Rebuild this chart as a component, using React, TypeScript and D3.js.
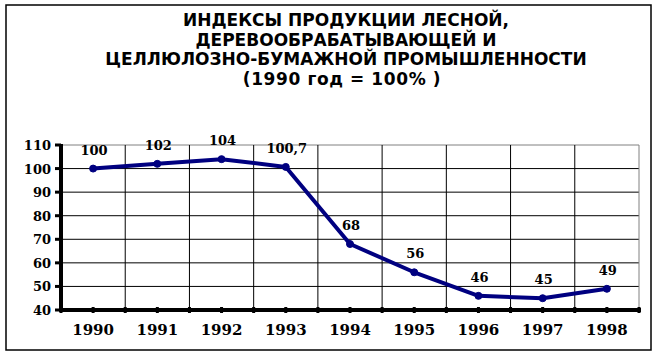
import React from "react";
import * as d3 from "d3";

const years = ["1990", "1991", "1992", "1993", "1994", "1995", "1996", "1997", "1998"];
const values = [100, 102, 104, 100.7, 68, 56, 46, 45, 49];
const valueLabels = ["100", "102", "104", "100,7", "68", "56", "46", "45", "49"];
const yTicks = [40, 50, 60, 70, 80, 90, 100, 110];
const titleLines = [
  "ИНДЕКСЫ ПРОДУКЦИИ ЛЕСНОЙ,",
  "ДЕРЕВООБРАБАТЫВАЮЩЕЙ И",
  "ЦЕЛЛЮЛОЗНО-БУМАЖНОЙ ПРОМЫШЛЕННОСТИ",
  "(1990 год = 100% )",
];

export default function App() {
  const W = 658, H = 356;
  const left = 61, right = 639, top = 145, bottom = 310;
  const x = d3.scaleBand<string>().domain(years).range([left, right]);
  const y = d3.scaleLinear().domain([40, 110]).range([bottom, top]);
  const cx = (d: string) => (x(d) as number) + x.bandwidth() / 2;
  const line = d3.line<number>().x((_, i) => cx(years[i])).y((v) => y(v));
  const edges = years.map((d) => x(d) as number).concat([right]);

  return (
    <svg width={W} height={H} style={{ position: "absolute", left: 0, top: 0 }}>
      <rect x={0} y={0} width={W} height={H} fill="#fff" />
      <rect x={6} y={5} width={645} height={345} fill="none" stroke="#000" strokeWidth={1.5} />
      <g fontFamily="DejaVu Sans" fontWeight="bold" fontSize={17} textAnchor="middle" fill="#000">
        {titleLines.map((t, i) => (
          <text key={i} x={i === 3 ? 342 : 346} y={26 + i * 19.6} letterSpacing={i === 3 ? 0.6 : 0}>{t}</text>
        ))}
      </g>
      {yTicks.map((t) => (
        <line key={t} x1={left} x2={right} y1={y(t)} y2={y(t)} stroke={t === 110 ? "#808080" : "#000"} strokeWidth={1} />
      ))}
      {edges.slice(1).map((e, i) => (
        <line key={i} x1={e} x2={e} y1={top} y2={bottom} stroke={i === edges.length - 2 ? "#808080" : "#000"} strokeWidth={1} />
      ))}
      <line x1={left} x2={left} y1={top - 1} y2={bottom + 2} stroke="#000" strokeWidth={4} />
      <line x1={left - 2} x2={right + 2} y1={bottom} y2={bottom} stroke="#000" strokeWidth={4} />
      {yTicks.map((t) => (
        <line key={t} x1={left - 6} x2={left} y1={y(t)} y2={y(t)} stroke="#000" strokeWidth={3} />
      ))}
      {edges.map((e, i) => (
        <line key={"e" + i} x1={e} x2={e} y1={bottom - 3} y2={bottom + 3} stroke="#000" strokeWidth={3} />
      ))}
      {years.map((d) => (
        <line key={"c" + d} x1={cx(d)} x2={cx(d)} y1={bottom - 3} y2={bottom + 3} stroke="#000" strokeWidth={3} />
      ))}
      <g fontFamily="DejaVu Serif" fontWeight="bold" fontSize={13} textAnchor="end" fill="#000">
        {yTicks.map((t) => (
          <text key={t} x={51} y={y(t) + 5}>{t}</text>
        ))}
      </g>
      <g fontFamily="DejaVu Serif" fontWeight="bold" fontSize={15} textAnchor="middle" fill="#000">
        {years.map((d) => (
          <text key={d} x={cx(d)} y={335}>{d}</text>
        ))}
      </g>
      <path d={line(values) as string} fill="none" stroke="#000080" strokeWidth={4} strokeLinejoin="round" />
      {values.map((v, i) => (
        <circle key={i} cx={cx(years[i])} cy={y(v)} r={3.5} fill="#000080" stroke="#000080" />
      ))}
      <g fontFamily="DejaVu Serif" fontWeight="bold" fontSize={13} textAnchor="middle" fill="#000">
        {values.map((v, i) => (
          <text key={i} x={cx(years[i]) + 1} y={y(v) - 14}>{valueLabels[i]}</text>
        ))}
      </g>
    </svg>
  );
}
